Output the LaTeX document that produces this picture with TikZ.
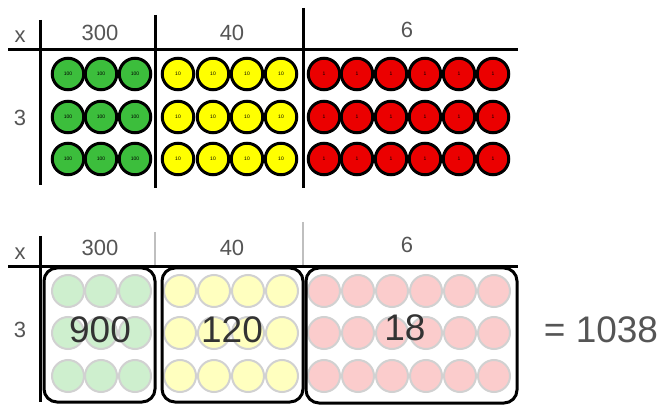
\documentclass[tikz,border=0pt]{standalone}
\usepackage{fontspec}
\setmainfont{Liberation Sans}

\definecolor{hundred}{RGB}{60,190,60}
\definecolor{ten}{RGB}{255,255,0}
\definecolor{one}{RGB}{235,0,0}
\definecolor{labelgray}{RGB}{85,85,85}

\begin{document}
\begin{tikzpicture}[
x=1pt,y=-1pt,
header/.style={text=labelgray,font=\fontsize{22}{22}\selectfont},
bignum/.style={text=black!80,font=\fontsize{37}{37}\selectfont},
coin/.style={circle,draw=black,line width=3pt,minimum size=31.5pt,inner sep=0pt,
  font=\fontsize{5}{5}\selectfont},
faded/.style={circle,draw=black!18,line width=2pt,minimum size=32pt,inner sep=0pt},
block/.style={draw=black,line width=3pt,rounded corners=13pt}
]
\useasboundingbox (0,0) rectangle (659,406);

% top table
\draw[line width=3pt] (8,50) -- (518,50);
\draw[line width=3pt] (40,20) -- (40,185);
\draw[line width=3pt] (155,15) -- (155,188);
\draw[line width=3pt] (303,8) -- (303,188);
\node[header] (tx) at (20,37) {x};
\node[header] (t300) at (100,33) {300};
\node[header] (t40) at (232,33) {40};
\node[header] (t6) at (407,30) {6};
\node[header] (t3) at (20,118) {3};

\foreach \r/\y in {1/74,2/117,3/159}{
  \foreach \c/\x in {1/68,2/101,3/135}
    \node[coin,fill=hundred] (h-\r-\c) at (\x,\y) {100};
  \foreach \c/\x in {1/178,2/213,3/247,4/281}
    \node[coin,fill=ten] (t-\r-\c) at (\x,\y) {10};
  \foreach \c/\x in {1/324,2/357,3/391,4/425,5/459,6/493}
    \node[coin,fill=one] (o-\r-\c) at (\x,\y) {1};
}

% bottom table
\foreach \r/\y in {1/291,2/333,3/376}{
  \foreach \c/\x in {1/68,2/101,3/135}
    \node[faded,fill=hundred!25] (fh-\r-\c) at (\x,\y) {};
  \foreach \c/\x in {1/180,2/214,3/248,4/282}
    \node[faded,fill=ten!25] (ft-\r-\c) at (\x,\y) {};
  \foreach \c/\x in {1/324,2/358,3/392,4/426,5/460,6/494}
    \node[faded,fill=one!20] (fo-\r-\c) at (\x,\y) {};
}
\draw[line width=3pt] (8,267) -- (518,267);
\draw[line width=3pt] (40,236) -- (40,402);
\draw[black!25,line width=1.2pt] (155,232) -- (155,265);
\draw[black!25,line width=1.2pt] (303,222) -- (303,265);
\draw[block] (44,268) rectangle (155,402);
\draw[block] (162,268) rectangle (303,402);
\draw[block] (306,268) rectangle (517,403);
\node[header] (bx) at (20,254) {x};
\node[header] (b300) at (100,248) {300};
\node[header] (b40) at (232,248) {40};
\node[header] (b6) at (407,245) {6};
\node[header] (b3) at (20,330) {3};
\node[bignum] (p900) at (100,330) {900};
\node[bignum] (p120) at (232,330) {120};
\node[bignum] (p18) at (405,328) {18};
\node[bignum,text=labelgray] (sum) at (601,330) {= 1038};

\end{tikzpicture}
\end{document}
